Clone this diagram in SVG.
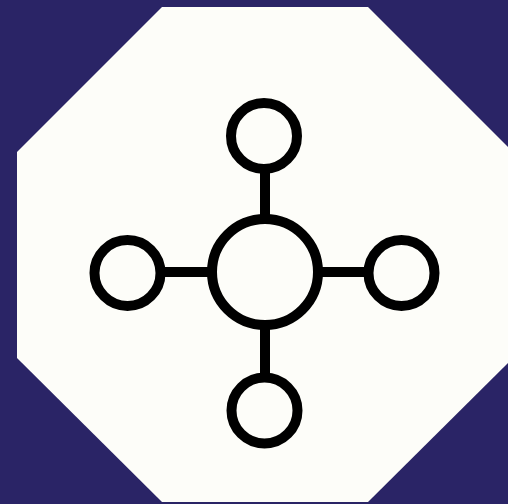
<svg xmlns="http://www.w3.org/2000/svg" width="508" height="504" viewBox="0 0 508 504">
<style>
.node{fill:none;stroke:#000;stroke-width:10}
.edge{stroke:#000;stroke-width:10;fill:none}
</style>
<rect width="508" height="504" fill="#2a2466"/>
<polygon points="162,7 368,7 513,152 513,358 368,502 162,502 17,358 17,152" fill="#fdfdf9"/>
<g id="connectors">
<line class="edge" x1="265" y1="173" x2="265" y2="215"/>
<line class="edge" x1="165" y1="272" x2="208" y2="272"/>
<line class="edge" x1="322" y1="272" x2="366" y2="272"/>
<line class="edge" x1="265" y1="329" x2="265" y2="374"/>
</g>
<g id="hub"><circle class="node" cx="265" cy="272" r="53"/></g>
<g id="top"><circle class="node" cx="264" cy="136" r="33"/></g>
<g id="left"><circle class="node" cx="127.5" cy="273" r="33"/></g>
<g id="right"><circle class="node" cx="401.5" cy="273" r="33"/></g>
<g id="bottom"><circle class="node" cx="264.5" cy="410.5" r="33"/></g>
</svg>
